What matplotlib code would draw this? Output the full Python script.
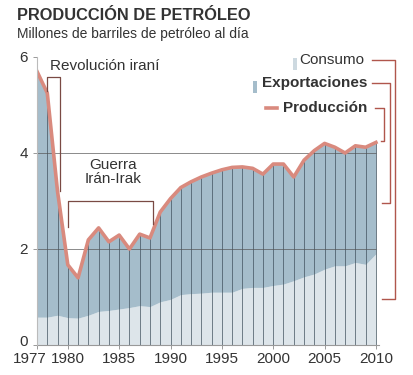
import numpy as np
import matplotlib.pyplot as plt
import matplotlib.transforms as mtransforms

plt.rcParams['font.family'] = ['Liberation Sans', 'DejaVu Sans']

# data (millones de barriles al dia)
years = list(range(1977, 2011))
produccion = [5.70, 5.25, 3.20, 1.67, 1.40, 2.19, 2.44, 2.15, 2.29, 2.00,
              2.31, 2.23, 2.77, 3.05, 3.28, 3.40, 3.50, 3.58, 3.65, 3.70,
              3.71, 3.68, 3.56, 3.77, 3.77, 3.50, 3.85, 4.05, 4.20, 4.12,
              4.00, 4.15, 4.12, 4.22]
consumo = [0.58, 0.58, 0.62, 0.57, 0.56, 0.62, 0.70, 0.72, 0.75, 0.78,
           0.82, 0.80, 0.90, 0.95, 1.05, 1.07, 1.08, 1.10, 1.10, 1.10,
           1.18, 1.20, 1.20, 1.24, 1.27, 1.34, 1.42, 1.48, 1.58, 1.65,
           1.65, 1.72, 1.68, 1.90]
xticks = [1977, 1980, 1985, 1990, 1995, 2000, 2005, 2010]
yticks = [0, 2, 4, 6]

txt = '#333333'
c_cons = '#dde5ea'
c_exp = '#a5bdcb'
c_prod = '#d98a7e'
c_brk = '#b0564c'

fig = plt.figure(figsize=(4.14, 3.75), dpi=100)
ax = fig.add_axes([37/414, 30/375, 363/414, 288/375])
ax.set_xlim(1977, 1977 + 363/10.27)
ax.set_ylim(0, 6)

# areas
ax.fill_between(years, 0, consumo, color=c_cons, lw=0)
ax.fill_between(years, consumo, produccion, color=c_exp, lw=0)
# year lines inside the areas
ax.vlines(years, 0, produccion, color='#3d4e5a', lw=0.7, alpha=0.7)
# horizontal grid
ax.hlines([2, 4], 1977, 2010, color='#555555', lw=0.6, alpha=0.8)
ax.plot(years, produccion, color=c_prod, lw=2.6, solid_joinstyle='round')

# axes styling
for s in ['top', 'right', 'bottom']:
    ax.spines[s].set_visible(False)
ax.spines['left'].set_color('#bbbbbb')
ax.plot([1977, 2010.3], [0, 0], color='#999999', lw=0.8, clip_on=False)
ax.set_xticks(xticks)
ax.set_yticks(yticks)
ax.tick_params(axis='both', colors='#999999', labelcolor=txt, labelsize=11, length=3, width=0.7)
ax.tick_params(axis='x', pad=2)
# first year label sits a little to the left, the zero a little higher
lab0 = ax.get_xticklabels()[0]
lab0.set_transform(lab0.get_transform() + mtransforms.ScaledTranslation(-7/100, 0, fig.dpi_scale_trans))
ylab0 = ax.get_yticklabels()[0]
ylab0.set_transform(ylab0.get_transform() + mtransforms.ScaledTranslation(0, 4/100, fig.dpi_scale_trans))

# annotations
ax.text(1978.3, 5.82, 'Revolución iraní', fontsize=11, color=txt, va='center')
ax.plot([1978, 1978, 1979.2, 1979.2], [5.3, 5.58, 5.58, 3.2], color='#7a4a44', lw=0.9)
ax.text(1984.4, 3.6, 'Guerra\nIrán-Irak', fontsize=11, color=txt, ha='center', va='center', linespacing=1.05)
ax.plot([1980, 1980, 1988.3, 1988.3], [2.45, 3.0, 3.0, 2.52], color='#7a4a44', lw=0.9)

# legend with brackets
ax.text(2008.9, 5.94, 'Consumo', fontsize=11, color=txt, ha='right', va='center')
ax.text(2009.2, 5.46, 'Exportaciones', fontsize=11, color=txt, ha='right', va='center', fontweight='bold')
ax.text(2009.2, 4.94, 'Producción', fontsize=11, color=txt, ha='right', va='center', fontweight='bold')
ax.add_patch(plt.Rectangle((2001.9, 5.72), 0.4, 0.25, color='#cdd9e0', lw=0, clip_on=False))
ax.add_patch(plt.Rectangle((1998.0, 5.24), 0.45, 0.25, color=c_exp, lw=0, clip_on=False))
ax.plot([1999.3, 2000.4], [4.94, 4.94], color=c_prod, lw=2.6, clip_on=False)

ax.plot([2009.6, 2011.85, 2011.85, 2010.6], [5.94, 5.94, 0.96, 0.96], color=c_brk, lw=1.0, clip_on=False)
ax.plot([2009.6, 2011.37, 2011.37, 2010.6], [5.46, 5.46, 2.96, 2.96], color=c_brk, lw=1.0, clip_on=False)
ax.plot([2009.9, 2010.8, 2010.8, 2010.5], [4.94, 4.94, 4.25, 4.25], color=c_brk, lw=1.0, clip_on=False)

# title
fig.text(17/414, 1 - 15/375, 'PRODUCCIÓN DE PETRÓLEO', fontsize=11.8, fontweight='bold', color=txt, va='center')
fig.text(17/414, 1 - 34/375, 'Millones de barriles de petróleo al día', fontsize=10, color=txt, va='center')

fig.savefig('out.png', dpi=100)
